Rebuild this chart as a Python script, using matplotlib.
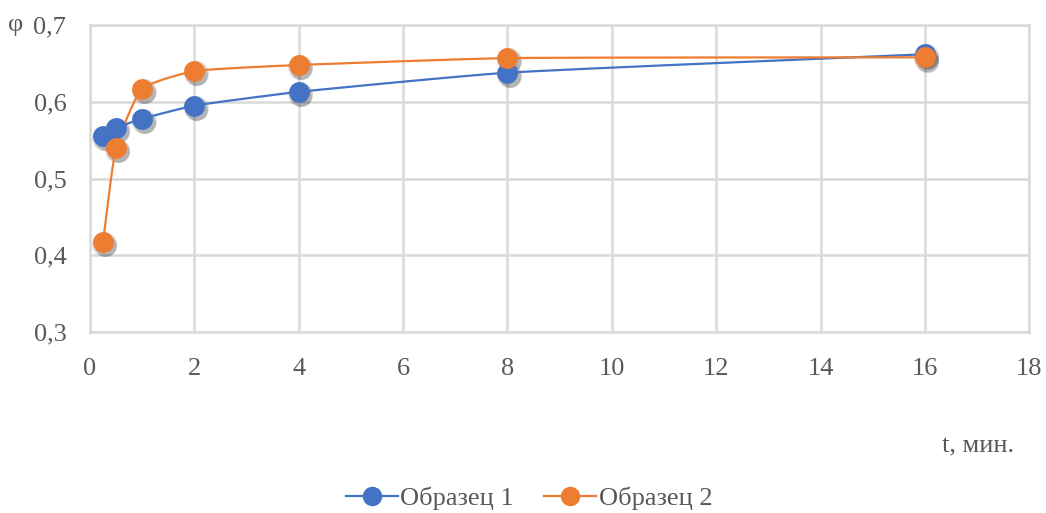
import numpy as np
import matplotlib
matplotlib.use("Agg")
import matplotlib.pyplot as plt
from matplotlib.transforms import offset_copy

t = [0.25, 0.5, 1, 2, 4, 8, 16]
phi_1 = [0.556, 0.566, 0.578, 0.595, 0.613, 0.638, 0.662]
phi_2 = [0.417, 0.540, 0.617, 0.640, 0.648, 0.657, 0.658]
series_names = ["Образец 1", "Образец 2"]
colors = ["#4472C4", "#ED7D31"]
x_ticks = [0, 2, 4, 6, 8, 10, 12, 14, 16, 18]
y_ticks = [0.3, 0.4, 0.5, 0.6, 0.7]

plt.rcParams['font.family'] = ['Liberation Serif', 'DejaVu Serif']
text_color = "#595959"

X_MAX, Y_MIN, Y_MAX = 18, 0.3, 0.7


def smooth(x, y, n=30, k=0.16):
    # bezier through the points; tangents taken in screen proportions,
    # control arms limited by the segment length so nothing overshoots
    sx, sy = 939 / X_MAX, 307 / (Y_MAX - Y_MIN)
    P = np.column_stack([np.asarray(x, float) * sx, np.asarray(y, float) * sy])
    m = len(P)
    tang = np.zeros_like(P)
    for i in range(m):
        d = P[min(i + 1, m - 1)] - P[max(i - 1, 0)]
        tang[i] = d / np.linalg.norm(d)
    s = np.linspace(0, 1, n)[:, None]
    pts = []
    for i in range(m - 1):
        L = np.linalg.norm(P[i + 1] - P[i])
        c1 = P[i] + tang[i] * L * k
        c2 = P[i + 1] - tang[i + 1] * L * k
        b = ((1 - s)**3 * P[i] + 3 * (1 - s)**2 * s * c1
             + 3 * (1 - s) * s**2 * c2 + s**3 * P[i + 1])
        pts.append(b)
    pts = np.vstack(pts)
    return pts[:, 0] / sx, pts[:, 1] / sy


fig = plt.figure(figsize=(10.46, 5.13), dpi=100)
ax = fig.add_axes([0.086, 0.353, 0.898, 0.598])

# soft drop shadow under the markers
for k, a in enumerate([0.10, 0.10, 0.12]):
    shift = offset_copy(ax.transData, fig=fig, x=1.0 + 0.5 * k, y=-1.5 - 0.8 * k, units="points")
    for vals in (phi_1, phi_2):
        ax.plot(t, vals, ls="none", marker="o", ms=15 + 1.5 * (2 - k), mew=0,
                color="black", alpha=a, transform=shift, zorder=3)

for vals, name, c in zip([phi_1, phi_2], series_names, colors):
    lx, ly = smooth(t, vals)
    ax.plot(lx, ly, color=c, lw=1.6, zorder=4)
    ax.plot(t, vals, ls="none", marker="o", ms=15, color=c, mew=0, zorder=5)
    # legend entry
    ax.plot([], [], color=c, lw=1.6, marker="o", ms=14, mew=0, label=name)

ax.set_xlim(0, X_MAX)
ax.set_ylim(Y_MIN, Y_MAX)
ax.set_xticks(x_ticks)
ax.set_yticks(y_ticks)
ax.set_yticklabels([f"{v:.1f}".replace(".", ",") for v in y_ticks])
ax.grid(True, color="#D9D9D9", lw=1.8)
ax.set_axisbelow(True)
for s in ax.spines.values():
    s.set_color("#D9D9D9")
    s.set_linewidth(1.8)
ax.tick_params(length=0, labelsize=19, colors=text_color)
ax.tick_params(axis="y", pad=17)
ax.tick_params(axis="x", pad=19)

fig.text(0.008, 0.951, "φ", fontsize=19, color=text_color, va="center")
fig.text(0.97, 0.13, "t, мин.", fontsize=19, color=text_color, ha="right", va="center")

leg = fig.legend(loc="center", bbox_to_anchor=(0.506, 0.028), ncol=2, frameon=False,
                 fontsize=19, handlelength=1.95, columnspacing=1.15, handletextpad=0.1)
for txt in leg.get_texts():
    txt.set_color(text_color)

fig.savefig("out.png", dpi=100)
